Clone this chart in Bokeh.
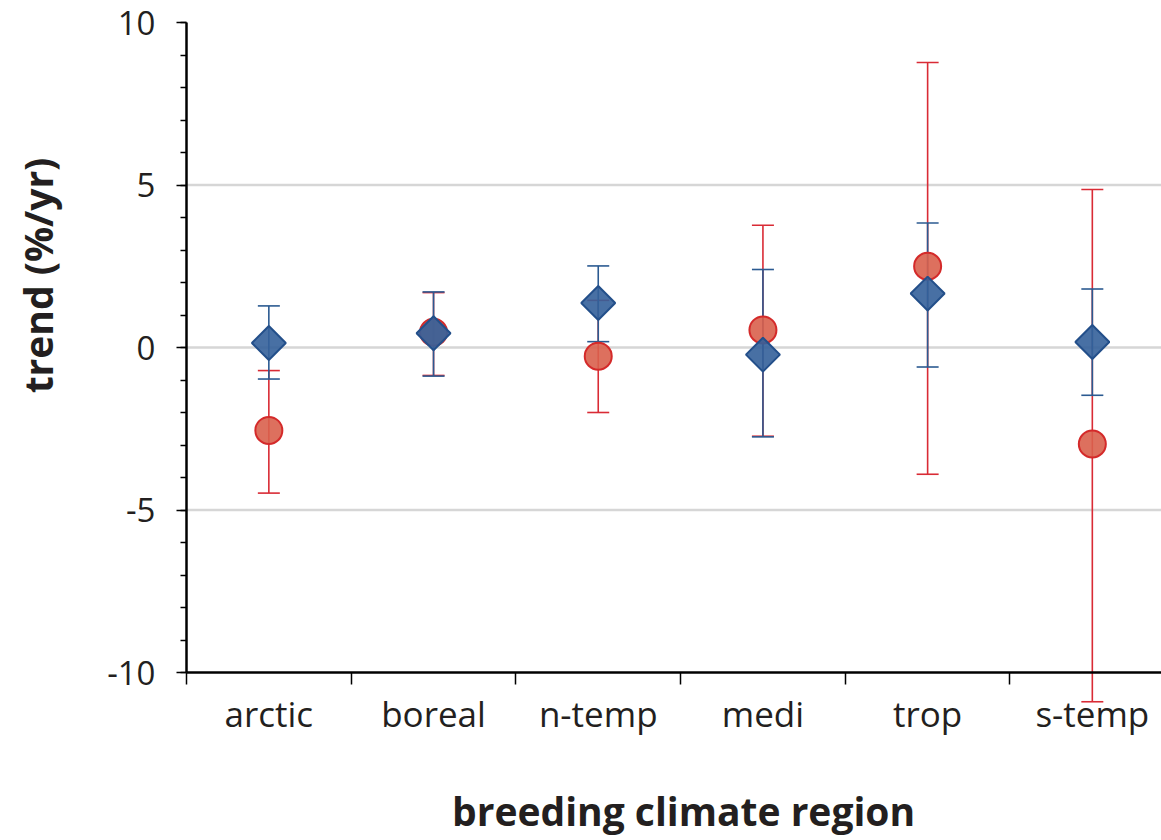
import math
from bokeh.plotting import figure
from bokeh.models import (Range1d, LinearAxis, FixedTicker, SingleIntervalTicker,
                          Whisker, TeeHead, ColumnDataSource, Label)
from bokeh.embed import file_html
from bokeh.resources import INLINE

regions = ["arctic", "boreal", "n-temp", "medi", "trop", "s-temp"]
red_mean = [-2.55, 0.47, -0.27, 0.54, 2.5, -2.97]
red_lower = [-4.48, -0.86, -2.0, -2.73, -3.9, -10.9]
red_upper = [-0.71, 1.69, 1.45, 3.76, 8.77, 4.86]
blue_mean = [0.14, 0.44, 1.37, -0.22, 1.66, 0.17]
blue_lower = [-0.97, -0.88, 0.18, -2.75, -0.6, -1.47]
blue_upper = [1.28, 1.71, 2.51, 2.4, 3.83, 1.8]
y_ticks = [-10, -5, 0, 5, 10]
grid_ticks = [-5, 0, 5]

xs = [i + 0.5 for i in range(len(regions))]
bounds_x = list(range(len(regions) + 1))

FONT = "Open Sans"
TXT = "#231f20"
RED_BAR = "#d92b35"
BLUE_BAR = "#2b5a91"

X_END = 5.92
p = figure(width=1161, height=840,
           min_border_left=0, min_border_top=0, min_border_right=0, min_border_bottom=0,
           x_range=Range1d(-1.1293, X_END), y_range=Range1d(-15.169, 10.677),
           x_axis_type=None, output_backend="svg", toolbar_location=None)
p.outline_line_color = None
p.background_fill_color = "white"
p.grid.visible = False

# y axis
ya = p.yaxis[0]
ya.fixed_location = 0
ya.ticker = SingleIntervalTicker(interval=5, num_minor_ticks=5)
ya.bounds = (-10, 10)
ya.major_label_overrides = {t: str(t) for t in y_ticks}
ya.axis_line_width = 2.5
ya.axis_line_color = "black"
ya.major_tick_out = 10
ya.major_tick_in = 0
ya.minor_tick_out = 6
ya.minor_tick_in = 0
ya.major_tick_line_color = "black"
ya.minor_tick_line_color = "black"
ya.major_tick_line_width = 1.5
ya.minor_tick_line_width = 1.5
ya.major_label_text_font = FONT
ya.major_label_text_font_size = "33px"
ya.major_label_text_color = TXT
ya.major_label_standoff = 21

# horizontal grid lines starting at the y axis
p.ray(x=[0] * len(grid_ticks), y=grid_ticks, length=0, angle=0,
      line_color="#d6d6d6", line_width=2.5, level="underlay")

# x axis with category labels
xa = LinearAxis(ticker=FixedTicker(ticks=xs, minor_ticks=[]),
                major_label_overrides={x: r for x, r in zip(xs, regions)},
                major_tick_out=0, major_tick_in=0, minor_tick_out=0, minor_tick_in=0,
                axis_line_width=2.5, axis_line_color="black",
                major_label_text_font=FONT, major_label_text_font_size="35px",
                major_label_text_color=TXT, major_label_standoff=17,
                bounds=(0, X_END), fixed_location=-10)
p.add_layout(xa, "below")
# boundary ticks
xt = LinearAxis(ticker=FixedTicker(ticks=bounds_x, minor_ticks=[]),
                major_label_overrides={b: "" for b in bounds_x},
                major_tick_out=12, major_tick_in=0, minor_tick_out=0, minor_tick_in=0,
                major_tick_line_width=1.5, major_tick_line_color="black",
                axis_line_color=None, bounds=(0, X_END), fixed_location=-10)
p.add_layout(xt, "below")

src_r = ColumnDataSource(dict(x=xs, mean=red_mean, lower=red_lower, upper=red_upper))
src_b = ColumnDataSource(dict(x=xs, mean=blue_mean, lower=blue_lower, upper=blue_upper))

for src, col in ((src_r, RED_BAR), (src_b, BLUE_BAR)):
    w = Whisker(source=src, base="x", upper="upper", lower="lower",
                line_color=col, line_width=1.6, level="underlay",
                upper_head=TeeHead(size=22, line_color=col, line_width=1.6),
                lower_head=TeeHead(size=22, line_color=col, line_width=1.6))
    p.add_layout(w)

p.scatter("x", "mean", source=src_r, marker="circle", size=27,
          fill_color="#d9604c", line_color="#d42a2a", line_width=2, fill_alpha=0.9)
p.scatter("x", "mean", source=src_b, marker="square", angle=math.pi / 4, size=24,
          fill_color="#34609a", line_color="#234f8a", line_width=2, fill_alpha=0.9)

p.add_layout(Label(x=-0.905, y=2.215, text="trend (%/yr)", angle=math.pi / 2,
                   text_align="center", text_baseline="middle",
                   text_font=FONT, text_font_style="bold", text_font_size="39px",
                   text_color=TXT))
p.add_layout(Label(x=3.018, y=-14.25, text="breeding climate region",
                   text_align="center", text_baseline="middle",
                   text_font=FONT, text_font_style="bold", text_font_size="39px",
                   text_color=TXT))

open("out.html", "w").write(file_html(p, INLINE))
